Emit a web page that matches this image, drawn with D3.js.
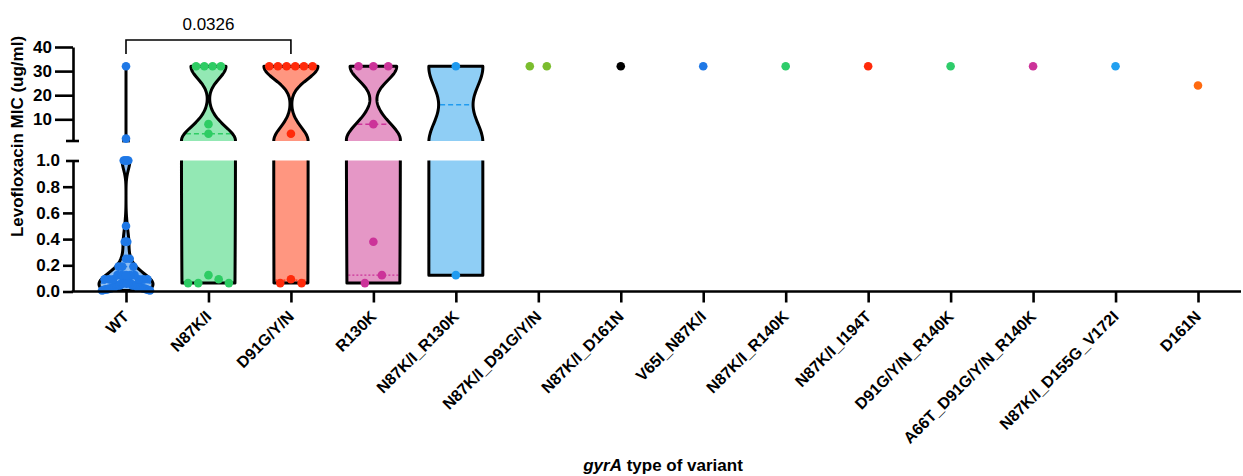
<!DOCTYPE html>
<html>
<head>
<meta charset="utf-8">
<script src="https://cdn.jsdelivr.net/npm/d3@7"></script>
<style>
  body { margin: 0; background: #fff; }
  svg text { font-family: Arial, "Liberation Sans", Helvetica, sans-serif; fill: #000; }
</style>
</head>
<body>
<svg id="chart" width="1243" height="476"></svg>
<script>
// gyrA variant groups and their levofloxacin MIC values (ug/ml)
var categories = ['WT', 'N87K/I', 'D91G/Y/N', 'R130K', 'N87K/I_R130K', 'N87K/I_D91G/Y/N',
  'N87K/I_D161N', 'V65I_N87K/I', 'N87K/I_R140K', 'N87K/I_I194T', 'D91G/Y/N_R140K',
  'A66T_D91G/Y/N_R140K', 'N87K/I_D155G_V172I', 'D161N'];

var wtMic = [32, 2, 1, 1, 1, 1, 1, 0.5, 0.38, 0.38, 0.38, 0.25, 0.25, 0.19, 0.19, 0.19,
  0.125, 0.125, 0.125, 0.125, 0.125, 0.094, 0.094, 0.094, 0.094, 0.094, 0.094,
  0.064, 0.064, 0.064, 0.064, 0.064, 0.064, 0.047, 0.047, 0.047, 0.047, 0.047, 0.047,
  0.032, 0.032, 0.032, 0.032, 0.032, 0.023, 0.023, 0.023, 0.023,
  0.016, 0.016, 0.016, 0.012, 0.012, 0.008, 0.008];
var n87Mic = [32, 32, 32, 32, 8, 4, 0.125, 0.094, 0.064, 0.064, 0.064];
var d91Mic = [32, 32, 32, 32, 32, 32, 4, 0.094, 0.064, 0.064];
var r130Mic = [32, 32, 32, 8, 0.38, 0.125, 0.064];
var n87r130Mic = [32, 0.125];
var n87d91Mic = [32, 32];
var n87d161Mic = [32];
var v65n87Mic = [32];
var n87r140Mic = [32];
var n87i194Mic = [32];
var d91r140Mic = [32];
var a66tMic = [32];
var n87d155Mic = [32];
var d161nMic = [24];

var micValues = [wtMic, n87Mic, d91Mic, r130Mic, n87r130Mic, n87d91Mic, n87d161Mic,
  v65n87Mic, n87r140Mic, n87i194Mic, d91r140Mic, a66tMic, n87d155Mic, d161nMic];

var pointColors = ['#1f78e6', '#2ecc64', '#ff2a0a', '#cc3399', '#1f9bf0', '#7bbd2e', '#000000',
  '#1f78e6', '#2ecc6a', '#ff2a0a', '#2ecc6a', '#cc3399', '#22a0f0', '#ff6a10'];
var fillColors = ['#8cbdf2', '#93e8b4', '#ff9680', '#e597c6', '#8fcef5', '#c4e49c', '#999999',
  '#8cbdf2', '#93e8b4', '#ff9680', '#93e8b4', '#e597c6', '#8fcef5', '#ffb48a'];
// kernel smoothing factor of each violin
var smoothing = [1.5, 0.6, 0.6, 0.6, 0.6, 0.6, 0.6, 0.6, 0.6, 0.6, 0.6, 0.6, 0.6, 0.6];

var upperTicks = [10, 20, 30, 40];
var lowerTicks = [0, 0.2, 0.4, 0.6, 0.8, 1.0];
var pValueLabel = '0.0326';
var pValuePair = ['WT', 'D91G/Y/N'];

var svg = d3.select('#chart'),
  axisX = 73,
  maxHalfWidth = 27,
  pointRadius = 4.3,
  x = d3.scalePoint().domain(categories).range([126, 1198]),
  // the y axis is split in two segments: 0-1 below, 1-40 above
  lower = { scale: d3.scaleLinear().domain([0, 1]).range([291.5, 160.5]), lo: 0, hi: 1 },
  upper = { scale: d3.scaleLinear().domain([1, 40]).range([141, 47]), lo: 1, hi: 40 },
  segments = [lower, upper];

var yOf = function(v) {
  return v > 1 ? upper.scale(v) : lower.scale(v);
};

// quantile the way Prism does it, (n+1)p
var quantile = function(sorted, p) {
  var n = sorted.length, pos = (n + 1) * p, i;
  if (pos <= 1) return sorted[0];
  if (pos >= n) return sorted[n - 1];
  i = Math.floor(pos);
  return sorted[i - 1] + (pos - i) * (sorted[i] - sorted[i - 1]);
};

var bandwidth = function(sorted, factor) {
  var sd = d3.deviation(sorted),
    iqr = quantile(sorted, 0.75) - quantile(sorted, 0.25),
    spread = Math.min(sd, iqr / 1.34);
  if (!(spread > 0)) spread = sd;
  return factor * 0.9 * spread * Math.pow(sorted.length, -0.2);
};

var violinLayer = svg.append('g'),
  pointLayer = svg.append('g');

categories.forEach(function(cat, gi) {
  var vals = micValues[gi].slice().sort(d3.ascending),
    cx = x(cat),
    min = vals[0],
    max = vals[vals.length - 1],
    hasViolin = vals.length > 1 && max > min,
    halfWidth = function() { return 0; };

  if (hasViolin) {
    var h = bandwidth(vals, smoothing[gi]),
      density = function(v) {
        return d3.sum(vals, function(xi) {
          var z = (v - xi) / h;
          return Math.exp(-0.5 * z * z);
        });
      },
      segSamples = segments.map(function(seg) {
        var a = Math.max(min, seg.lo), b = Math.min(max, seg.hi), n;
        if (a >= b) return null;
        n = Math.ceil(Math.abs(seg.scale(a) - seg.scale(b)) / 0.5);
        return {
          seg: seg, a: a, b: b,
          pts: d3.range(n + 1).map(function(i) {
            var v = a + (b - a) * i / n;
            return { v: v, f: density(v) };
          })
        };
      }).filter(Boolean),
      fmax = d3.max(segSamples, function(s) { return d3.max(s.pts, function(p) { return p.f; }); });

    halfWidth = function(v) { return maxHalfWidth * density(v) / fmax; };

    var g = violinLayer.append('g');

    segSamples.forEach(function(s) {
      var y = s.seg.scale;
      s.pts.forEach(function(p) { p.w = maxHalfWidth * p.f / fmax; });

      g.append('path')
        .datum(s.pts)
        .attr('d', d3.area()
          .x0(function(p) { return cx - p.w; })
          .x1(function(p) { return cx + p.w; })
          .y(function(p) { return y(p.v); }))
        .attr('fill', fillColors[gi])
        .attr('stroke', 'none');
    });

    // median dashed, quartiles dotted
    [[0.25, '2,2', 1.2], [0.5, '5,3', 1.5], [0.75, '2,2', 1.2]].forEach(function(q) {
      var v = quantile(vals, q[0]), w;
      if (v <= min || v >= max) return;
      w = halfWidth(v) - 1.5;
      if (w <= 0) return;
      g.append('line')
        .attr('x1', cx - w).attr('x2', cx + w)
        .attr('y1', yOf(v)).attr('y2', yOf(v))
        .attr('stroke', pointColors[gi])
        .attr('stroke-width', q[2])
        .attr('stroke-dasharray', q[1]);
    });

    segSamples.forEach(function(s) {
      var y = s.seg.scale,
        left = s.pts.map(function(p) { return [cx - p.w, y(p.v)]; }),
        right = s.pts.map(function(p) { return [cx + p.w, y(p.v)]; }),
        hasBottom = s.a === min,
        hasTop = s.b === max,
        pieces;

      if (hasBottom && hasTop) pieces = [left.concat(right.slice().reverse(), [left[0]])];
      else if (hasTop) pieces = [left.concat(right.slice().reverse())];
      else if (hasBottom) pieces = [left.slice().reverse().concat(right)];
      else pieces = [left, right];

      pieces.forEach(function(pts) {
        g.append('path')
          .attr('d', d3.line()(pts))
          .attr('fill', 'none')
          .attr('stroke', '#000')
          .attr('stroke-width', 3)
          .attr('stroke-linejoin', 'round');
      });
    });
  }

  // scatter points, spread sideways in rows of near-equal heights
  var rows = [], row = null;
  vals.forEach(function(v) {
    var py = yOf(v);
    if (!row || Math.abs(py - row.y0) >= 9) {
      row = { y0: py, items: [] };
      rows.push(row);
    }
    row.items.push({ v: v, y: py });
  });

  rows.forEach(function(r) {
    var k = r.items.length,
      mid = r.items[Math.floor(k / 2)].v,
      width = hasViolin ? Math.max(2 * halfWidth(mid) - 2, 0) : 52,
      step = k > 1 ? Math.min(17, width / k) : 0;
    r.items.forEach(function(it, i) {
      var slot = i % 2 === 0 ? i / 2 : k - 1 - (i - 1) / 2;
      pointLayer.append('circle')
        .attr('cx', cx + (slot - (k - 1) / 2) * step)
        .attr('cy', it.y)
        .attr('r', pointRadius)
        .attr('fill', pointColors[gi]);
    });
  });
});

// y axis, upper segment
var upperAxis = svg.append('g')
  .attr('transform', 'translate(' + axisX + ',0)')
  .call(d3.axisLeft(upper.scale).tickValues(upperTicks).tickSize(18).tickSizeOuter(0).tickPadding(3).tickFormat(d3.format('d')));
upperAxis.append('line')
  .attr('x1', -7).attr('x2', 6)
  .attr('y1', upper.scale(upper.lo)).attr('y2', upper.scale(upper.lo));

// y axis, lower segment
var lowerAxis = svg.append('g')
  .attr('transform', 'translate(' + axisX + ',0)')
  .call(d3.axisLeft(lower.scale).tickValues(lowerTicks).tickSize(10).tickSizeOuter(0).tickPadding(3).tickFormat(d3.format('.1f')));
lowerAxis.selectAll('.tick').filter(function(d) { return d === lower.hi; })
  .select('line').attr('x1', 6).attr('x2', -7);

[upperAxis, lowerAxis].forEach(function(ax) {
  ax.selectAll('path, line').attr('stroke', '#000').attr('stroke-width', 2.6);
  ax.selectAll('text')
    .attr('font-size', 17)
    .attr('font-weight', 'bold')
    .attr('fill', '#000');
});

// x axis
var xAxis = svg.append('g')
  .attr('transform', 'translate(0,' + lower.scale(0) + ')')
  .call(d3.axisBottom(x).tickSize(11).tickSizeOuter(0));
xAxis.select('.domain').remove();
xAxis.append('line')
  .attr('x1', axisX - 1.3).attr('x2', 1241)
  .attr('y1', 0).attr('y2', 0);
xAxis.selectAll('line').attr('stroke', '#000').attr('stroke-width', 2.6);
xAxis.selectAll('.tick text')
  .attr('y', 0).attr('dy', 0)
  .attr('transform', 'translate(3.5,26) rotate(-45)')
  .attr('text-anchor', 'end')
  .attr('font-size', 16)
  .attr('font-weight', 'bold')
  .attr('fill', '#000');

// axis titles
svg.append('text')
  .attr('transform', 'translate(23,136.5) rotate(-90)')
  .attr('text-anchor', 'middle')
  .attr('font-size', 17)
  .attr('font-weight', 'bold')
  .text('Levofloxacin MIC (ug/ml)');

var xTitle = svg.append('text')
  .attr('x', 663).attr('y', 471)
  .attr('text-anchor', 'middle')
  .attr('font-size', 17)
  .attr('font-weight', 'bold');
xTitle.append('tspan').attr('font-style', 'italic').text('gyrA');
xTitle.append('tspan').text(' type of variant');

// significance bracket
var bx0 = x(pValuePair[0]), bx1 = x(pValuePair[1]);
svg.append('path')
  .attr('d', 'M' + bx0 + ',54V40H' + bx1 + 'V54')
  .attr('fill', 'none')
  .attr('stroke', '#000')
  .attr('stroke-width', 1.6);
svg.append('text')
  .attr('x', (bx0 + bx1) / 2).attr('y', 30)
  .attr('text-anchor', 'middle')
  .attr('font-size', 17)
  .text(pValueLabel);
</script>
</body>
</html>
